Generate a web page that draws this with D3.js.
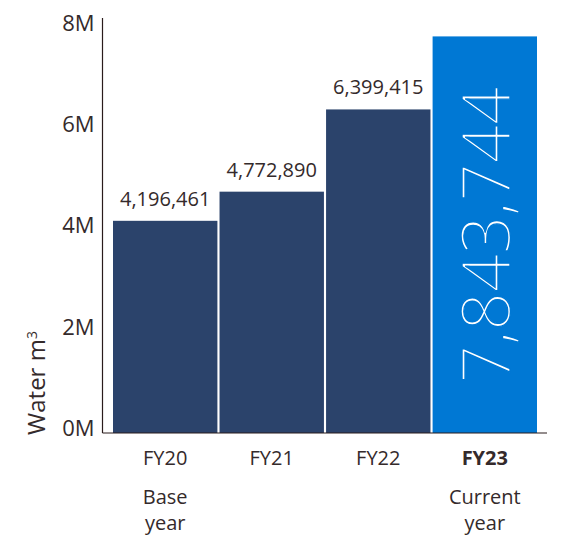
<!DOCTYPE html>
<html>
<head>
<meta charset="utf-8">
<script src="https://cdn.jsdelivr.net/npm/d3@7"></script>
<style>
  body { margin: 0; background: #ffffff; }
  svg text { font-family: "Open Sans", "Noto Sans", sans-serif; fill: #342a2b; }
</style>
</head>
<body>
<div id="water_chart"></div>
<script>
//DATA
var years = ["FY20", "FY21", "FY22", "FY23"];
var subLabels = [["Base", "year"], [], [], ["Current", "year"]];
var water = [4196461, 4772890, 6399415, 7843744];
var yTicks = [0, 2000000, 4000000, 6000000, 8000000];

var data = years.map(function(d, i) {
  return {year: d, value: water[i], sub: subLabels[i], current: i === years.length - 1};
});

var svgContainer = d3.select("#water_chart").append("svg")
  .attr("width", 562)
  .attr("height", 536);

//MARGINS
var margin = {top: 18, left: 102.5, baseline: 433, right: 547};

//SCALES
var xScale = d3.scaleBand()
  .domain(years)
  .range([113, 537])
  .paddingInner(0.02)
  .paddingOuter(0);

var yScale = d3.scaleLinear()
  .domain([0, 8000000])
  .range([margin.baseline, 28.5]);

var fmt = d3.format(",");

//BARS
svgContainer.selectAll("rect.bar")
  .data(data)
  .enter().append("rect")
  .attr("class", "bar")
  .attr("x", function(d) { return xScale(d.year); })
  .attr("y", function(d) { return yScale(d.value); })
  .attr("width", xScale.bandwidth())
  .attr("height", function(d) { return yScale(0) - yScale(d.value); })
  .attr("fill", function(d) { return d.current ? "#0078d4" : "#2b436b"; });

//VALUE LABELS ABOVE THE OLDER BARS
svgContainer.selectAll("text.value")
  .data(data.filter(function(d) { return !d.current; }))
  .enter().append("text")
  .attr("class", "value")
  .attr("x", function(d) { return xScale(d.year) + xScale.bandwidth() / 2; })
  .attr("y", function(d) { return yScale(d.value) - 15; })
  .attr("text-anchor", "middle")
  .style("font-size", "20px")
  .text(function(d) { return fmt(d.value); });

//BIG ROTATED LABEL INSIDE THE CURRENT BAR (stroke in bar colour thins the glyphs)
var cur = data[data.length - 1];
svgContainer.append("text")
  .attr("class", "big_value")
  .attr("transform", `translate(${xScale(cur.year) + xScale.bandwidth() / 2 + 25}, 235) rotate(-90)`)
  .attr("text-anchor", "middle")
  .style("font-size", "67px")
  .style("font-weight", 300)
  .style("fill", "#ffffff")
  .style("stroke", "#0078d4")
  .style("stroke-width", 1.4)
  .text(fmt(cur.value));

//Y AXIS
var yAxis = d3.axisLeft(yScale)
  .tickValues(yTicks)
  .tickSize(0)
  .tickPadding(8)
  .tickFormat(function(d) { return (d / 1000000) + "M"; });

var yAxisG = svgContainer.append("g")
  .attr("class", "y_axis")
  .attr("transform", `translate(${margin.left}, 0)`)
  .call(yAxis);

yAxisG.select(".domain").remove();
yAxisG.selectAll("text")
  .attr("dy", "0.1em")
  .style("font-size", "22px")
  .style("font-family", null);

svgContainer.append("line")
  .attr("x1", margin.left).attr("x2", margin.left)
  .attr("y1", margin.top).attr("y2", margin.baseline)
  .attr("stroke", "#2a1c1c")
  .attr("stroke-width", 1.2);

svgContainer.append("line")
  .attr("x1", margin.left).attr("x2", margin.right)
  .attr("y1", margin.baseline).attr("y2", margin.baseline)
  .attr("stroke", "#2a1c1c")
  .attr("stroke-width", 1.2);

//X AXIS LABELS
var xAxis = d3.axisBottom(xScale).tickSize(0).tickPadding(0);
var xAxisG = svgContainer.append("g")
  .attr("class", "x_axis")
  .attr("transform", `translate(0, ${margin.baseline})`)
  .call(xAxis);

xAxisG.select(".domain").remove();
xAxisG.selectAll("text")
  .attr("y", 32)
  .attr("dy", 0)
  .style("font-size", "20px")
  .style("font-family", null)
  .style("font-weight", function(d, i) { return data[i].current ? "bold" : null; });

xAxisG.selectAll(".tick")
  .each(function(d, i) {
    var g = d3.select(this);
    data[i].sub.forEach(function(s, j) {
      g.append("text")
        .attr("y", 71 + j * 26)
        .attr("text-anchor", "middle")
        .style("font-size", "20px")
        .text(s);
    });
  });

//Y AXIS TITLE
var title = svgContainer.append("text")
  .attr("transform", "translate(45, 383) rotate(-90)")
  .attr("text-anchor", "middle")
  .style("font-size", "24px");
title.append("tspan").text("Water m");
title.append("tspan")
  .attr("dy", "-0.55em")
  .style("font-size", "14px")
  .text("3");
</script>
</body>
</html>
